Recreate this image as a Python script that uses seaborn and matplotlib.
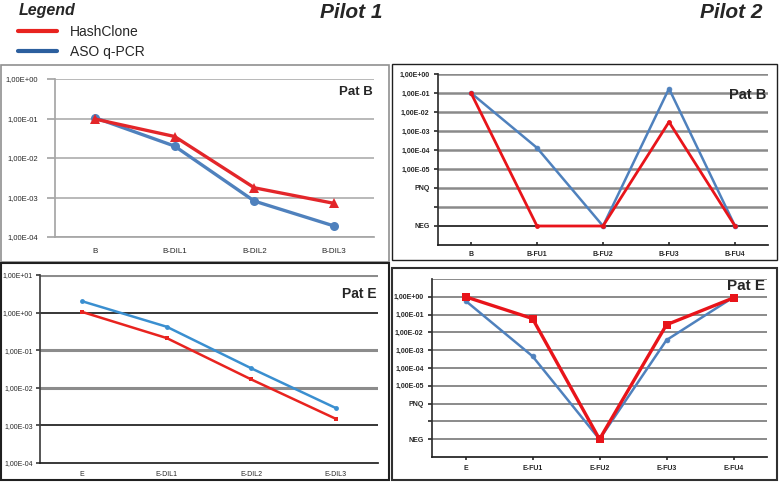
import numpy as np
import matplotlib
matplotlib.use("Agg")
import matplotlib.pyplot as plt
import seaborn as sns
from matplotlib.patches import Rectangle
from matplotlib.lines import Line2D
from matplotlib.ticker import FixedLocator, NullLocator

sns.set_theme(style="white")
plt.rcParams["font.family"] = ["Liberation Sans", "DejaVu Sans"]

# Pilot 1 - dilution series
dil_b_cats = ["B", "B-DIL1", "B-DIL2", "B-DIL3"]
dil_b_hash = [0.097, 0.035, 0.00176, 0.00071]
dil_b_aso = [0.105, 0.020, 0.00081, 0.00019]

dil_e_cats = ["E", "E-DIL1", "E-DIL2", "E-DIL3"]
dil_e_hash = [1.04, 0.21, 0.0167, 0.0015]
dil_e_aso = [2.0, 0.42, 0.033, 0.0029]

# Pilot 2 - follow-up samples ("NEG" = negative)
fu_b_cats = ["B", "B-FU1", "B-FU2", "B-FU3", "B-FU4"]
fu_b_hash = [0.1, "NEG", "NEG", 0.003, "NEG"]
fu_b_aso = [0.1, 1.3e-4, "NEG", 0.17, "NEG"]

fu_e_cats = ["E", "E-FU1", "E-FU2", "E-FU3", "E-FU4"]
fu_e_hash = [1.0, 0.06, "NEG", 0.027, 0.87]
fu_e_aso = [0.6, 4.6e-4, "NEG", 0.0037, 0.95]

# Pilot 2 y axis levels (top to bottom)
p2_labels = ["1,00E+00", "1,00E-01", "1,00E-02", "1,00E-03",
             "1,00E-04", "1,00E-05", "PNQ", "", "NEG"]

RED = "#e3262a"
BLUE = "#4f81bd"
BLUE_E = "#3a8fd0"

W, H = 779, 482
fig = plt.figure(figsize=(W / 100, H / 100), dpi=100)


def px_axes(l, t, r, b):
    return fig.add_axes([l / W, 1 - b / H, (r - l) / W, (b - t) / H])


def box(l, t, r, b, color, lw):
    fig.add_artist(Rectangle((l / W, 1 - b / H), (r - l) / W, (b - t) / H,
                             transform=fig.transFigure, fill=False,
                             edgecolor=color, linewidth=lw))


def sci(v):
    e = int(round(np.log10(v)))
    return "1,00E%+03d" % e


def p2_pos(vals):
    # NEG sits at level 8 below 1E+00, numbers on log10 scale
    return [-8.0 if v == "NEG" else np.log10(v) for v in vals]


# ---------- boxes ----------
box(1, 65, 389, 262, "#909090", 1.2)
box(392, 64, 777, 260, "#202020", 1.0)
box(1, 263, 389, 480, "#202020", 1.5)
box(392, 268, 777, 480, "#303030", 1.5)

# ---------- Pilot 1, Pat B ----------
ax = px_axes(55, 79, 374, 237)
ax.set_yscale("log")
sns.lineplot(x=dil_b_cats, y=dil_b_aso, ax=ax, sort=False, color=BLUE, lw=2.4,
             marker="o", markersize=6.5, markeredgewidth=0)
sns.lineplot(x=dil_b_cats, y=dil_b_hash, ax=ax, sort=False, color=RED, lw=2.4,
             marker="^", markersize=6.5, markeredgewidth=0)
ax.set_ylim(1e-4, 1)
ax.set_xlim(-0.5, len(dil_b_cats) - 0.5)
ticks = [1e-4, 1e-3, 1e-2, 1e-1, 1]
ax.yaxis.set_major_locator(FixedLocator(ticks))
ax.yaxis.set_minor_locator(NullLocator())
ax.set_yticklabels([sci(t) for t in ticks])
ax.yaxis.grid(True, color="#a6a6a6", lw=1.1)
for s in ["top", "right"]:
    ax.spines[s].set_visible(False)
for s in ["left", "bottom"]:
    ax.spines[s].set_color("#a6a6a6")
ax.tick_params(axis="y", length=6, color="#a6a6a6", labelsize=5.5, pad=6, left=True)
ax.tick_params(axis="x", length=0, labelsize=5.8, pad=8)
ax.text(0.995, 0.92, "Pat B", transform=ax.transAxes, ha="right", va="center",
        fontsize=9.5, fontweight="bold")

# ---------- Pilot 1, Pat E ----------
ax = px_axes(40, 275, 378, 463)
ax.set_yscale("log")
sns.lineplot(x=dil_e_cats, y=dil_e_aso, ax=ax, sort=False, color=BLUE_E, lw=1.8,
             marker="o", markersize=3.5, markeredgewidth=0)
sns.lineplot(x=dil_e_cats, y=dil_e_hash, ax=ax, sort=False, color="#e8231f", lw=1.8,
             marker="s", markersize=3.2, markeredgewidth=0)
ax.set_ylim(1e-4, 10)
ax.set_xlim(-0.5, len(dil_e_cats) - 0.5)
ticks = [1e-4, 1e-3, 1e-2, 1e-1, 1, 10]
ax.yaxis.set_major_locator(FixedLocator(ticks))
ax.yaxis.set_minor_locator(NullLocator())
ax.set_yticklabels([sci(t) for t in ticks])
for t in [1e-2, 1e-1, 10]:
    ax.axhline(t, color="#8c8c8c", lw=2.2, zorder=0.5)
for t in [1e-3, 1]:
    ax.axhline(t, color="black", lw=1.1, zorder=0.6)
for s in ["top", "right"]:
    ax.spines[s].set_visible(False)
ax.spines["left"].set_color("#404040")
ax.spines["bottom"].set_color("#202020")
ax.tick_params(axis="y", length=3, color="#404040", labelsize=5, pad=2, left=True)
ax.tick_params(axis="x", length=0, labelsize=5, pad=6)
ax.text(0.995, 0.9, "Pat E", transform=ax.transAxes, ha="right", va="center",
        fontsize=10, fontweight="bold")

# ---------- Pilot 2 panels ----------
panels = [
    (fu_b_cats, fu_b_hash, fu_b_aso, (438, 74, 768, 245), "Pat B", 0,
     dict(marker="o", markersize=3.5), dict(marker="o", markersize=3.5)),
    (fu_e_cats, fu_e_hash, fu_e_aso, (432, 279, 767, 457), "Pat E", 1,
     dict(marker="s", markersize=6), dict(marker="o", markersize=3.5)),
]
for cats, hv, av, pos, name, top, hm, am in panels:
    ax = px_axes(*pos)
    sns.lineplot(x=cats, y=p2_pos(av), ax=ax, sort=False, color=BLUE, lw=1.8,
                 markeredgewidth=0.5, markeredgecolor=BLUE, **am)
    sns.lineplot(x=cats, y=p2_pos(hv), ax=ax, sort=False, color="#e8141a", lw=2.0 + top * 0.4,
                 markeredgewidth=0, **hm)
    ax.set_ylim(-9, top)
    ax.set_xlim(-0.5, len(cats) - 0.5)
    levels = [-i for i in range(len(p2_labels))]
    ax.yaxis.set_major_locator(FixedLocator(levels))
    ax.set_yticklabels(p2_labels)
    for lv in range(top, -9, -1):
        if lv == -8 and top == 0:
            ax.axhline(lv, color="black", lw=1.1, zorder=0.6)
        else:
            ax.axhline(lv, color="#8a8a8a", lw=1.8 if top == 0 else 1.4, zorder=0.5)
    for s in ["top", "right"]:
        ax.spines[s].set_visible(False)
    ax.spines["left"].set_color("#303030")
    ax.spines["bottom"].set_color("#202020")
    ax.tick_params(axis="y", length=3, color="#303030", labelsize=5, pad=3, left=True)
    ax.tick_params(axis="x", length=2, color="#303030", labelsize=5, pad=4, bottom=True,
                   direction="in" if top == 0 else "out")
    for lab in ax.get_yticklabels() + ax.get_xticklabels():
        lab.set_fontweight("bold")
    ax.text(0.995, 0.88 if top == 0 else 0.96, name, transform=ax.transAxes,
            ha="right", va="center", fontsize=10.5 if top == 0 else 11,
            fontweight="bold")

# ---------- titles and legend ----------
fig.text(382 / W, 1 - 12 / H, "Pilot 1", ha="right", va="center", fontsize=15,
         fontweight="bold", fontstyle="italic")
fig.text(763 / W, 1 - 12 / H, "Pilot 2", ha="right", va="center", fontsize=15,
         fontweight="bold", fontstyle="italic")
handles = [Line2D([], [], color="#e8231f", lw=3), Line2D([], [], color="#2c5f9e", lw=3)]
leg = fig.legend(handles, ["HashClone", "ASO q-PCR"], loc="upper left",
                 bbox_to_anchor=(10 / W, 1 + 5 / H), frameon=False, fontsize=10,
                 title="Legend", handlelength=2.8, handletextpad=0.9,
                 labelspacing=0.45, borderpad=0.1,
                 title_fontproperties={"weight": "bold", "style": "italic", "size": 11.5})
leg._legend_box.align = "left"

fig.savefig("out.png", dpi=100)
